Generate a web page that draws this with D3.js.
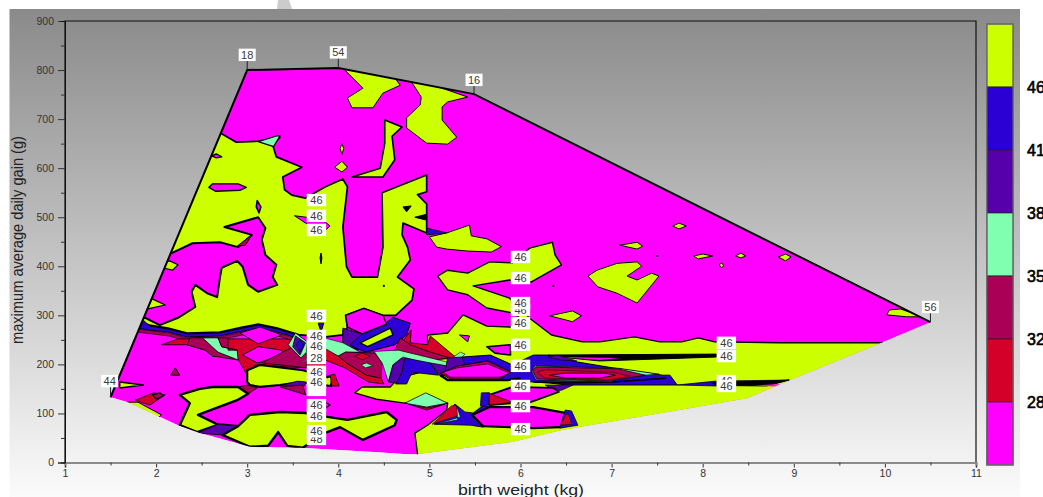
<!DOCTYPE html>
<html>
<head>
<meta charset="utf-8">
<script src="https://cdn.jsdelivr.net/npm/d3@7"></script>
<style>
  html, body { margin: 0; padding: 0; background: #fff; overflow: hidden; }
  text { font-family: "Liberation Sans", Arial, sans-serif; }
</style>
</head>
<body>
<div id="graph-pane"></div>
<script>
// axis ticks
var xTicks = [1, 2, 3, 4, 5, 6, 7, 8, 9, 10, 11];
var xMinor = [1.5, 2.5, 3.5, 4.5, 5.5, 6.5, 7.5, 8.5, 9.5, 10.5];
var yTicks = [0, 100, 200, 300, 400, 500, 600, 700, 800, 900];
var yMinor = [50, 150, 250, 350, 450, 550, 650, 750, 850];

// colour scale
var legendLabels = ["46", "41", "38", "35", "32", "28"];
var legendColors = ["#ccff00", "#2a00d4", "#5500aa", "#80ffb0", "#aa0055", "#d40029", "#ff00ff"];

// contour regions, all [birth weight, max gain]
var hull = [[3,800],[4,804],[5.49,751],[10.5,286],[9.95,243],[8.95,167],[8.49,131],[7.75,107],[6.46,66],[5.91,42],[4.87,17],[4.76,17],[4.43,21],[3.58,30],[3.03,32],[2.48,60],[2.24,76],[1.69,123],[1.5,133]];
var hullTop = [[1.5,133],[3,800],[4,804],[5.49,751],[10.5,286]];

var yellowUpper = [[2.59,670],[2.72,670],[2.88,653],[3.12,655],[3.23,659],[3.36,663],[3.28,647],[3.32,623],[3.6,602],[3.39,582],[3.41,556],[3.49,545],[3.64,539],[3.86,562],[4.05,578],[4.1,562],[4.05,480],[4.09,399],[4.15,378],[4.43,378],[4.49,439],[4.48,550],[4.97,586],[4.97,552],[4.87,546],[4.97,527],[4.97,468],[4.71,488],[4.7,464],[4.76,439],[4.79,413],[4.65,378],[4.83,354],[4.81,331],[4.63,300],[4.49,300],[4.28,314],[4.08,300],[4.1,276],[4.05,260],[3.86,256],[3.58,260],[3.33,274],[3.12,282],[2.95,276],[2.7,266],[2.34,264],[2.13,274],[1.93,280],[1.71,290]];
var magentaLeft = [[2.04,423],[2.17,427],[2.4,447],[2.7,449],[2.9,439],[3.05,464],[2.75,480],[3.12,500],[3.2,478],[3.16,454],[3.2,423],[3.32,403],[3.28,378],[3.33,362],[3.12,348],[3.01,362],[2.95,399],[2.89,411],[2.72,397],[2.7,376],[2.67,337],[2.56,345],[2.43,362],[2.39,348],[2.43,317],[2.24,295],[2.04,280],[1.88,295],[1.71,290]];
var yellowNub1 = [[2.09,396],[2.1,409],[2.15,411],[2.24,403],[2.18,392]];
var yellowNub2 = [[1.82,335],[1.94,335],[2.1,321],[1.91,313],[1.82,307]];
var magOval = [[2.58,561],[2.62,568],[2.9,568],[2.99,561],[2.92,555],[2.65,553]];
var magSpeck = [[2.61,625],[2.66,629],[2.72,623],[2.66,621]];
var magSpindle = [[3.11,534],[3.15,521],[3.13,509],[3.1,521]];
var greenTop = [[3.12,654],[3.33,666],[3.36,666],[3.29,644]];
var crimsonWedge = [[2.89,441],[3.05,464],[2.98,443]];
var magNearLabel = [[3.52,503],[3.69,499],[3.86,490],[3.91,482],[3.86,474],[3.69,482]];
var blackSpindle = [[3.81,427],[3.82,417],[3.81,405],[3.8,417]];
var notch1 = [[4.71,521],[4.8,523],[4.75,511]];
var notch2 = [[4.84,500],[4.97,506],[4.97,494]];

var yellowTop1 = [[4.05,804],[4.27,763],[4.1,743],[4.15,723],[4.38,723],[4.49,753],[4.68,769],[4.62,784],[4.46,820],[4.05,830]];
var yellowTop2 = [[4.81,800],[4.81,774],[4.91,745],[4.9,729],[4.75,703],[4.75,682],[4.97,651],[5.2,649],[5.3,663],[5.14,698],[5.14,725],[5.2,735],[5.42,745],[5.14,763],[5.14,800]];
var yellowHook = [[4.51,698],[4.7,684],[4.59,665],[4.62,617],[4.49,582],[4.15,582],[4.46,600],[4.51,651]];
var yellowDiamond = [[3.96,602],[4.04,614],[4.1,602],[4.04,592]];
var yellowTiny = [[4.02,640],[4.04,650],[4.06,640],[4.04,628]];
var yellowBlob = [[5,460],[5.19,468],[5.44,484],[5.46,462],[5.63,456],[5.79,440],[5.68,429],[5.42,431],[5.19,435],[5.08,439]];
var blueTri = [[4.97,478],[4.97,464],[5.19,468]];

var yellowLower = [[4.98,260],[5.2,264],[5.37,301],[5.63,278],[5.91,276],[6,294],[5.91,305],[5.63,315],[5.42,342],[5.2,352],[5.09,380],[5.2,392],[5.42,386],[5.66,409],[5.91,407],[6.1,437],[6.35,449],[6.38,423],[6.45,403],[6.12,368],[5.88,372],[5.48,360],[5.88,335],[6.1,294],[6.34,260],[6.68,246],[6.87,246],[7.25,256],[7.53,246],[7.77,246],[7.95,254],[8.13,246],[8.85,244],[10.17,244],[10.17,-15],[4.87,-15],[4.87,17],[4.84,60],[4.98,76],[5.19,107],[5.2,121],[4.73,121],[4.42,129],[4.18,142],[4.26,154],[4.57,154],[4.66,172],[4.98,188]];
var magTriangle = [[5.33,260],[5.44,258],[5.42,246]];
var magSliverUpper = [[5.63,236],[5.89,240],[5.89,219],[5.72,223]];

var yellowC = [[6.74,380],[6.84,392],[7.06,406],[7.28,409],[7.33,400],[7.17,380],[7.28,372],[7.44,386],[7.52,380],[7.28,325],[7.06,345],[6.85,358]];
var yellowR2 = [[6.32,299],[6.57,309],[6.67,299],[6.57,287]];
var yellowR3 = [[7.09,443],[7.28,449],[7.34,441],[7.28,435]];
var yellowR4 = [[7.67,482],[7.74,488],[7.82,482],[7.74,476]];
var yellowR5 = [[7.9,421],[8,425],[8.11,421],[7.95,415]];
var yellowR6 = [[8.36,421],[8.42,427],[8.47,421],[8.42,417]];
var yellowR7 = [[8.18,403],[8.21,407],[8.23,401],[8.21,397]];
var yellowR8 = [[8.83,419],[8.91,425],[8.97,419],[8.91,411]];
var yellowEnd = [[10.02,301],[10.05,311],[10.17,313],[10.42,297],[10.24,297]];
var specks = [[7.5,421],[6.36,360],[4.5,360]];

// band under the upper yellow
var blueStrip = [[1.86,290],[1.93,278],[2.13,272],[2.34,262],[2.7,264],[2.95,274],[3.12,280],[3.33,272],[3.58,258],[3.58,252],[3.33,266],[3.12,274],[2.95,268],[2.7,258],[2.34,256],[2.13,266],[1.93,270],[1.78,274]];
var crimsonStrip = [[1.78,272],[2.13,264],[2.34,254],[2.7,256],[2.95,266],[3.12,272],[3.33,264],[3.58,250],[3.58,244],[3.33,258],[3.12,266],[2.95,260],[2.7,250],[2.34,248],[2.13,258],[1.78,266]];
var redLeft = [[2.06,240],[2.24,252],[3.41,252],[3.85,240],[3.85,193],[3.61,193],[3.09,199],[3,178],[2.89,213],[2.62,217],[2.54,229],[2.34,240]];
var crimsonA = [[2.34,240],[2.37,254],[2.51,254],[2.68,225],[2.9,209],[2.62,217],[2.54,229]];
var greenA = [[2.51,254],[2.68,254],[2.72,236],[2.89,229],[2.9,209],[2.68,225]];
var crimsonB = [[2.68,254],[2.79,254],[2.79,229],[2.89,229],[2.72,236]];
var magDiamond1 = [[2.92,264],[3.14,276],[3.38,260],[3.12,242]];
var magDiamond2 = [[2.95,219],[3.12,236],[3.38,229],[3.39,219],[3.11,203]];
var crimsonC = [[3.39,225],[3.54,240],[3.65,240],[3.65,193],[3.16,203]];
var greenRing = [[3.45,240],[3.53,264],[3.66,246],[3.65,225],[3.59,213]];
var purpleRing = [[3.5,236],[3.53,258],[3.64,244],[3.58,219]];
var blueRing = [[3.54,240],[3.58,250],[3.62,238],[3.58,225]];
var crimsonSmall = [[2.21,193],[2.26,178],[2.16,178]];

var magHexagon = [[4.08,300],[4.28,314],[4.49,300],[4.53,282],[4.26,262],[4.1,276]];
var blueCentre = [[4.05,270],[4.26,262],[4.49,280],[4.6,296],[4.79,284],[4.75,260],[4.62,240],[4.3,225],[4.05,244]];
var purpleCentre = [[4.05,274],[4.26,262],[4.13,240],[4.22,229],[4.05,240]];
var yellowPocket = [[4.24,244],[4.57,274],[4.6,260],[4.32,236]];
var redCentre = [[4.8,270],[4.79,244],[4.98,240],[5.01,258],[5.26,219],[5.31,213],[5.01,209],[4.81,225],[4.68,240]];
var crimsonCentre = [[4.68,254],[4.79,240],[5.01,225],[5.23,213],[5.01,209],[4.81,221],[4.62,229]];
var redTail = [[3.85,233],[4,217],[4.09,203],[4.31,178],[4.47,172],[4.5,160],[4.33,164],[4.07,193],[3.85,209]];
var greenCentre = [[3.85,254],[4.05,244],[4.24,225],[4.66,229],[5.19,205],[5.34,225],[5.39,221],[5.18,182],[4.9,205],[4.71,215],[4.6,199],[4.55,164],[4.49,199],[4.4,225],[4.08,225],[4,217],[3.85,233]];
var crimsonBlob = [[4,217],[4.08,225],[4.4,223],[4.48,203],[4.47,172],[4.31,178],[4.09,203]];
var greenDot = [[4.25,199],[4.31,203],[4.38,197],[4.3,193]];
var redDot = [[4.18,217],[4.26,223],[4.35,217],[4.26,209]];
var purpleB = [[4.6,199],[4.7,213],[4.73,209],[4.7,184],[4.64,162],[4.55,164]];
var blueB = [[4.73,213],[5.01,203],[5.1,178],[4.81,184],[4.75,160],[4.63,160],[4.7,184]];
var purpleC = [[5.01,203],[5.19,197],[5.28,184],[5.12,176]];

// spindles on the right of the band
var blueSpindle = [[5.36,215],[5.67,219],[5.91,199],[6.14,219],[6.29,219],[6.62,205],[7.01,193],[7.56,178],[7.64,178],[7.72,158],[7.01,158],[6.51,158],[6.32,162],[6.14,164],[5.89,168],[5.77,170],[5.3,178]];
var purpleLeft = [[5.2,213],[5.36,215],[5.39,197],[5.17,184]];
var crimsonLeft = [[5.12,182],[5.31,197],[5.64,207],[5.9,184],[5.77,170],[5.23,170]];
var magLeft = [[5.15,184],[5.31,193],[5.64,201],[5.88,182],[5.77,174],[5.23,174]];
var heavyLine = [[5.12,178],[5.2,168],[5.86,168],[6,172]];
var heavyMain = [[6.14,164],[6.51,162],[7.01,164],[7.6,172]];
var blackThin = [[6.3,219],[8.15,221],[8.15,215],[6.87,207],[6.54,213]];
var magSliver = [[6.43,215],[7.09,213],[6.87,209]];
var purpleTop = [[6.3,215],[6.4,219],[6.62,207],[6.43,209]];
var purpleBottom = [[6.27,158],[6.51,158],[6.58,158],[6.46,148],[6.38,144]];
var greenMain = [[6.12,186],[6.16,197],[7.08,192],[7.52,180],[7.1,174],[7,164],[6.17,168]];
var crimsonMain = [[6.13,187],[6.17,195],[7.07,191],[7.37,178],[6.98,166],[6.18,170]];
var redMain = [[6.18,184],[6.27,189],[7.01,184],[7.2,176],[6.96,168],[6.27,172]];
var magMain = [[6.32,178],[6.49,182],[6.93,182],[7.04,178],[6.87,172],[6.49,172]];
var blueThin = [[7.72,158],[8.15,166],[8.95,168],[8.6,160],[8.15,156]];
var blackLow = [[8.1,162],[8.95,168],[8.7,156],[8.15,157]];
var magLow = [[8.55,157],[8.85,160],[8.8,155]];

var magLowerA = [[5.66,138],[5.91,154],[6.36,152],[6.42,144],[6.11,123],[5.91,121],[5.66,117]];
var redLowerA = [[5.64,142],[5.91,123],[5.66,117]];
var blueLowerA = [[5.57,142],[5.66,142],[5.65,117],[5.56,115]];
var blueLowerB = [[5.28,119],[5.39,103],[5.48,101],[5.58,115],[5.66,115],[5.47,95],[5.59,72],[5.45,76],[5.05,78]];
var redWedge = [[5.24,115],[5.29,117],[5.33,97],[5.22,90],[5.03,78]];
var greenWedge = [[5.3,115],[5.34,93],[5.07,78],[5.31,87]];
var magLowerB = [[5.47,97],[5.66,113],[6.14,113],[6.49,101],[6.56,83],[6.43,72],[6.14,70],[5.59,74]];
var blueEnd = [[6.49,107],[6.56,105],[6.63,76],[6.43,70]];
var redEnd = [[6.5,99],[6.53,97],[6.56,78],[6.44,76]];
var redUnder = [[4.77,119],[4.97,111],[5.17,119],[4.97,107]];
var greenLow = [[4.73,121],[4.96,142],[5.2,121],[4.97,113]];

// lower left blobs
var yellowMid = [[3,188],[3.14,199],[3.61,188],[3.88,174],[3.94,178],[3.92,156],[3.58,164],[3.36,158],[3.14,154],[3.03,158],[3,164]];
var redMid = [[3.91,178],[3.96,180],[4.01,156],[3.93,156]];
var purpleMid = [[3.36,156],[3.55,166],[3.64,164],[3.63,156]];
var crimsonMidA = [[2.9,154],[3,158],[3.11,152],[3.01,140]];
var crimsonMidB = [[3.36,154],[3.61,158],[3.64,138]];
var yellowLowA = [[2.26,138],[2.48,150],[2.62,154],[2.9,154],[3.01,140],[2.89,127],[2.46,97],[2.67,78],[2.9,74],[2.67,76],[2.45,62],[2.26,76],[2.37,121]];
var purpleLow = [[2.46,60],[2.67,78],[2.9,74],[2.73,56]];
var yellowLowB = [[2.9,74],[3.03,97],[3.36,103],[3.64,101],[3.88,93],[4.1,87],[4.53,103],[4.64,87],[4.62,76],[4.27,46],[4.02,72],[3.85,60],[3.61,30],[3.44,34],[3.34,62],[3.23,34],[3.03,32],[2.73,56]];
var yellowCorner = [[1.69,123],[1.8,123],[2.06,97],[2.02,91],[1.82,87],[1.6,117]];
var redCorner = [[1.77,127],[1.97,142],[2.1,138],[1.93,117]];
var crimsonCorner = [[1.96,138],[2.04,142],[2.08,136],[2,129]];
var wedge44 = [[1.6,164],[1.86,158],[1.6,152]];
var cursorMark = [[3.78,117],[3.84,125],[3.91,117],[3.84,109]];
var navyMark = [[3.78,284],[3.84,284],[3.81,266]];

// value labels sitting on the surface, painted in this order
var labelBw   = [3,   4,   5.49, 1.49, 10.5, 3.76, 3.76, 3.76, 3.76, 3.76, 3.76, 3.76, 3.76, 3.76, 3.76, 3.76, 3.76, 3.76, 3.76, 6,   6,   6,   6,   6,   6,   6,   6,   6,   6,   8.26, 8.26, 8.26, 8.26];
var labelGain = [831, 836, 780,  166,  317,  535,  503,  474,  299,  238,  258,  148,  213,  185,  164,  117,  95,   48,   64,   419, 376, 311, 325, 284, 240, 197, 156, 115, 68,  244,  217,  166,  156];
var labelText = ["18","54","16","44","56","46","46","46","46","46","46","","28","46","46","46","46","48","46","46","46","46","46","46","46","46","46","46","46","46","46","46","46"];
var stems = [[3,800,822],[4,804,826],[5.49,751,772],[1.5,133,155],[10.5,286,308]];

var fillKey = {y: "#ccff00", b: "#2a00d4", p: "#5500aa", g: "#80ffb0", c: "#aa0055", r: "#d40029", m: "#ff00ff", k: "#000000"};

// painter's order: [points, colour, line width]
var layers = [
  [yellowUpper, "y", 1.7], [magentaLeft, "m", 2], [yellowNub1, "y", 1.2], [yellowNub2, "y", 1.2],
  [magOval, "m", 1.4], [magSpeck, "m", 1.4], [magSpindle, "m", 1.6], [greenTop, "g", 1.2], [crimsonWedge, "c", 1],
  [magNearLabel, "m", 1], [blackSpindle, "k", 1], [notch1, "k", 1], [notch2, "k", 1],
  [yellowTop1, "y", 1], [yellowTop2, "y", 1], [yellowHook, "y", 1.6], [yellowDiamond, "y", 1], [yellowTiny, "y", 1],
  [yellowBlob, "y", 1], [blueTri, "b", 0.8], [yellowLower, "y", 1.4], [magTriangle, "m", 1], [magSliverUpper, "m", 1.6],
  [yellowC, "y", 1], [yellowR2, "y", 1], [yellowR3, "y", 1], [yellowR4, "y", 1], [yellowR5, "y", 1], [yellowR6, "y", 1], [yellowR7, "y", 1], [yellowR8, "y", 1], [yellowEnd, "y", 1],
  [blueStrip, "b", 1], [crimsonStrip, "c", 0.6], [redLeft, "r", 0.8], [crimsonA, "c", 0.8], [greenA, "g", 0.8], [crimsonB, "c", 0.8],
  [magDiamond1, "m", 0.8], [magDiamond2, "m", 0.8], [crimsonC, "c", 0.8], [greenRing, "g", 0.8], [purpleRing, "p", 0.8], [blueRing, "b", 0.8], [crimsonSmall, "c", 1],
  [blueCentre, "b", 1], [purpleCentre, "p", 0.8], [magHexagon, "m", 1.4], [yellowPocket, "y", 1.4], [redCentre, "r", 0.8], [crimsonCentre, "c", 0.8], [redTail, "r", 0.8],
  [greenCentre, "g", 0.6], [crimsonBlob, "c", 0.8], [greenDot, "g", 0.6], [redDot, "r", 0.6], [purpleB, "p", 0.8], [blueB, "b", 0.8], [purpleC, "p", 0.8],
  [blueSpindle, "b", 1], [purpleLeft, "p", 0.8], [crimsonLeft, "c", 1], [magLeft, "m", 0.6],
  [blackThin, "k", 1], [magSliver, "m", 0], [purpleTop, "p", 0.6], [purpleBottom, "p", 0.6], [greenMain, "g", 0.8], [crimsonMain, "c", 0.8], [redMain, "r", 0.5], [magMain, "m", 0.8],
  [blueThin, "b", 0.8], [blackLow, "k", 1], [magLow, "m", 0],
  [magLowerA, "m", 1.8], [redLowerA, "r", 0.6], [blueLowerA, "b", 0.8], [blueLowerB, "b", 0.8], [redWedge, "r", 0.6], [greenWedge, "g", 0.6],
  [magLowerB, "m", 2.2], [blueEnd, "b", 0.8], [redEnd, "r", 0.6], [redUnder, "r", 0.8], [greenLow, "g", 0.8],
  [yellowMid, "y", 2.2], [redMid, "r", 0.8], [purpleMid, "p", 0.6], [crimsonMidA, "c", 0.8], [crimsonMidB, "c", 0.8],
  [yellowLowA, "y", 2.4], [purpleLow, "p", 0.8], [yellowLowB, "y", 2.4], [yellowCorner, "y", 1], [redCorner, "r", 0.8], [crimsonCorner, "c", 1.2], [wedge44, "y", 1.6],
  [cursorMark, "m", 1.2], [navyMark, "b", 1]
];

var width = 1043, height = 497;
var margin = {top: 21, right: 67, bottom: 34.5, left: 65};

var svg = d3.select("#graph-pane").append("svg")
    .attr("width", width)
    .attr("height", height)
    .style("display", "block");

var defs = svg.append("defs");
var grad = defs.append("linearGradient").attr("id", "bg").attr("x1", 0).attr("y1", 0).attr("x2", 0).attr("y2", 1);
grad.append("stop").attr("offset", "0%").attr("stop-color", "#8a8a8a");
grad.append("stop").attr("offset", "100%").attr("stop-color", "#fbfbfb");

// backdrop of the exported picture
svg.append("rect").attr("x", 9.5).attr("y", 9).attr("width", 1010.5).attr("height", 488).attr("fill", "url(#bg)");
svg.append("path").attr("d", "M278,0L289,0L292,9L277,9Z").attr("fill", "#cccccc");

var x = d3.scaleLinear().domain([1, 11]).range([margin.left, width - margin.right]);
var y = d3.scaleLinear().domain([0, 900]).range([height - margin.bottom, margin.top]);
var line = d3.line().x(function(d) { return x(d[0]); }).y(function(d) { return y(d[1]); });

defs.append("clipPath").attr("id", "hull-clip").append("path").attr("d", line(hull) + "Z");

var surface = svg.append("g").attr("clip-path", "url(#hull-clip)");
surface.append("path").attr("d", line(hull) + "Z").attr("fill", fillKey.m);

surface.selectAll("path.region")
    .data(layers)
  .enter().append("path")
    .attr("class", "region")
    .attr("d", function(d) { return line(d[0]) + "Z"; })
    .attr("fill", function(d) { return fillKey[d[1]]; })
    .attr("stroke", "#000")
    .attr("stroke-width", function(d) { return d[2]; })
    .attr("stroke-linejoin", "round");

surface.append("path").attr("d", line(heavyLine)).attr("fill", "none").attr("stroke", "#000").attr("stroke-width", 2.4);
surface.append("path").attr("d", line(heavyMain)).attr("fill", "none").attr("stroke", "#000").attr("stroke-width", 1.6);
surface.selectAll("circle.speck").data(specks).enter().append("circle")
    .attr("class", "speck")
    .attr("cx", function(d) { return x(d[0]); })
    .attr("cy", function(d) { return y(d[1]); })
    .attr("r", 1.1);

svg.append("path").attr("d", line(hullTop)).attr("fill", "none").attr("stroke", "#000").attr("stroke-width", 2);

// plot frame
svg.append("path")
    .attr("d", "M" + x(1) + "," + y(0) + "V" + y(900) + "H" + x(11) + "V" + y(0))
    .attr("fill", "none").attr("stroke", "#111").attr("stroke-width", 1.2);

// axes
var xAxis = svg.append("g").attr("transform", "translate(0," + y(0) + ")")
    .call(d3.axisBottom(x).tickValues(xTicks).tickFormat(d3.format("d")).tickSize(5).tickPadding(2));
var xAxisMinor = svg.append("g").attr("transform", "translate(0," + y(0) + ")")
    .call(d3.axisBottom(x).tickValues(xMinor).tickFormat("").tickSize(3));
var yAxis = svg.append("g").attr("transform", "translate(" + x(1) + ",0)")
    .call(d3.axisLeft(y).tickValues(yTicks).tickSize(7).tickPadding(4));
var yAxisMinor = svg.append("g").attr("transform", "translate(" + x(1) + ",0)")
    .call(d3.axisLeft(y).tickValues(yMinor).tickFormat("").tickSize(4));

[xAxis, xAxisMinor].forEach(function(a) {
  a.select(".domain").attr("stroke", "#8a8a8a").attr("stroke-width", 2);
  a.selectAll("line").attr("stroke", "#333");
});
[yAxis, yAxisMinor].forEach(function(a) {
  a.select(".domain").attr("stroke", "#111");
  a.selectAll("line").attr("stroke", "#333");
});
svg.selectAll("g.tick text").attr("font-family", "Liberation Sans").attr("font-size", 10.5).attr("fill", "#333");

// stems under the corner labels
svg.selectAll("line.stem").data(stems).enter().append("line")
    .attr("class", "stem")
    .attr("x1", function(d) { return x(d[0]); })
    .attr("x2", function(d) { return x(d[0]); })
    .attr("y1", function(d) { return y(d[1]); })
    .attr("y2", function(d) { return y(d[2]); })
    .attr("stroke", "#222").attr("stroke-width", 1);

// leader of the "28" label
svg.append("line").attr("x1", x(3.61)).attr("y1", y(205)).attr("x2", x(3.76)).attr("y2", y(222)).attr("stroke", "#555").attr("stroke-width", 1);

var labels = svg.selectAll("g.clabel").data(labelText).enter().append("g")
    .attr("class", "clabel")
    .attr("transform", function(d, i) { return "translate(" + x(labelBw[i]) + "," + y(labelGain[i]) + ")"; });
labels.append("rect")
    .attr("x", function(d, i) { return i < 5 ? -8.5 : -9.7; })
    .attr("y", -6.2)
    .attr("width", function(d, i) { return i < 5 ? 17 : 19.4; })
    .attr("height", 12.4)
    .attr("fill", "#fff");
labels.append("text")
    .attr("text-anchor", "middle")
    .attr("dy", "0.36em")
    .attr("font-size", 11)
    .attr("fill", "#3a3a3a")
    .text(function(d) { return d; });

// colour bar
var bar = d3.scaleBand().domain(d3.range(legendColors.length)).range([24, 465]).paddingInner(0);
svg.selectAll("rect.swatch").data(legendColors).enter().append("rect")
    .attr("class", "swatch")
    .attr("x", 987)
    .attr("y", function(d, i) { return bar(i); })
    .attr("width", 26)
    .attr("height", bar.bandwidth())
    .attr("fill", function(d) { return d; })
    .attr("stroke", "#222")
    .attr("stroke-width", 0.7);
svg.append("rect").attr("x", 986.7).attr("y", 24).attr("width", 26.5).attr("height", 441)
    .attr("fill", "none").attr("stroke", "#707070").attr("stroke-width", 1.4);
svg.selectAll("text.legend").data(legendLabels).enter().append("text")
    .attr("class", "legend")
    .attr("x", 1027)
    .attr("y", function(d, i) { return bar(i + 1); })
    .attr("dy", "0.36em")
    .attr("font-size", 16)
    .attr("fill", "#000")
    .attr("stroke", "#000")
    .attr("stroke-width", 0.6)
    .text(function(d) { return d; });

// axis titles
svg.append("text")
    .attr("x", 521).attr("y", 495)
    .attr("text-anchor", "middle")
    .attr("font-size", 14.5)
    .attr("fill", "#222")
    .attr("textLength", 126)
    .attr("lengthAdjust", "spacingAndGlyphs")
    .text("birth weight (kg)");
svg.append("text")
    .attr("transform", "translate(23,240) rotate(-90)")
    .attr("text-anchor", "middle")
    .attr("font-size", 17)
    .attr("fill", "#222")
    .attr("textLength", 208)
    .attr("lengthAdjust", "spacingAndGlyphs")
    .text("maximum average daily gain (g)");
</script>
</body>
</html>
